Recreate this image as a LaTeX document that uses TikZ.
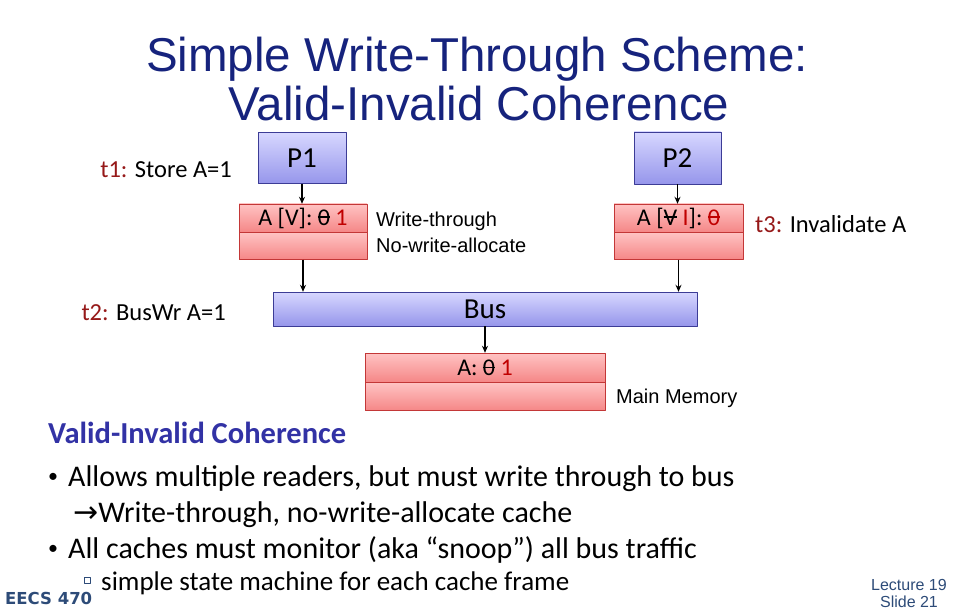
\documentclass[tikz,border=0pt]{standalone}
\usepackage{fontspec}
\setmainfont{Carlito}
\newfontfamily\arialfont{Liberation Sans}
\newfontfamily\titlefont{Liberation Sans}
\newfontfamily\symfont{DejaVu Sans}
\usetikzlibrary{positioning,arrows.meta}
\definecolor{titleblue}{RGB}{22,35,125}
\definecolor{procline}{RGB}{60,60,150}
\definecolor{proctop}{RGB}{215,215,255}
\definecolor{procbot}{RGB}{150,150,235}
\definecolor{rowline}{RGB}{195,55,55}
\definecolor{rowtop}{RGB}{255,195,195}
\definecolor{rowbot}{RGB}{245,135,135}
\definecolor{tred}{RGB}{150,25,25}
\definecolor{valred}{RGB}{192,0,0}
\definecolor{headblue}{RGB}{50,50,165}
\definecolor{footblue}{RGB}{45,75,120}
\newsavebox\strkbox
\newcommand\strk[1]{\sbox\strkbox{#1}\rlap{\rule[0.3em]{\wd\strkbox}{0.06em}}\usebox\strkbox}
\newcommand\bulletmark{\makebox[20pt][l]{\raisebox{0.12em}{\fontsize{20}{24}\selectfont\textbullet}}}
\begin{document}
\begin{tikzpicture}[x=1pt,y=-1pt,>={Stealth[length=7pt,width=6pt]},line join=round,
	proc/.style={draw=procline,top color=proctop,bottom color=procbot,inner sep=0pt,font=\fontsize{29}{33}\selectfont},
	row/.style={draw=rowline,top color=rowtop,bottom color=rowbot,inner sep=0pt,font=\fontsize{24}{28}\selectfont},
	note/.style={font=\arialfont\fontsize{20}{23}\selectfont,inner sep=0pt,anchor=west},
	tlabel/.style={font=\fontsize{24.5}{28}\selectfont,inner sep=0pt},
	body/.style={font=\fontsize{30}{34}\selectfont,inner sep=0pt,anchor=base west}]
				\useasboundingbox (0,0) rectangle (958,612);
				% title
				\node[font=\titlefont\fontsize{47.5}{52}\selectfont,text=titleblue,anchor=base] (title1) at (477,72) {Simple Write-Through Scheme:};
				\node[font=\titlefont\fontsize{47.5}{52}\selectfont,text=titleblue,anchor=base] (title2) at (479,121) {Valid-Invalid Coherence};
				% processors and caches
				\node[proc,minimum width=88pt,minimum height=51pt] (p1) at (302,158) {P1};
				\node[proc,minimum width=87pt,minimum height=52pt] (p2) at (677.5,158) {P2};
				\node[row,minimum width=128pt,minimum height=28pt] (c1a) at (303,218) {A [V]: \strk{0} \textcolor{valred}{1}};
				\node[row,minimum width=128pt,minimum height=27pt,below=0pt of c1a] (c1b) {};
				\node[row,minimum width=129pt,minimum height=28pt] (c2a) at (678.5,218) {A [\strk{V} \textcolor{valred}{I}]: \textcolor{valred}{\strk{0}}};
				\node[row,minimum width=129pt,minimum height=27pt,below=0pt of c2a] (c2b) {};
				% bus and memory
				\node[proc,minimum width=424pt,minimum height=34pt] (bus) at (485,309) {Bus};
				\node[row,minimum width=240pt,minimum height=29pt] (m1) at (485,367.5) {A: \strk{0} \textcolor{valred}{1}};
				\node[row,minimum width=240pt,minimum height=28pt,below=0pt of m1] (m2) {};
				\draw[->,line width=1.5pt] (p1.south) -- (p1.south |- c1a.north);
				\draw[->,line width=1.5pt] (c1b.south) -- (c1b.south |- bus.north);
				\draw[->,line width=1.5pt] (p2.south) -- (p2.south |- c2a.north);
				\draw[->,line width=1.5pt] (c2b.south) -- (c2b.south |- bus.north);
				\draw[->,line width=1.5pt] (bus.south) -- (m1.north);
				% labels
				\node[tlabel,anchor=east] (t1) at (232,170) {\textcolor{tred}{t1:} Store A=1};
				\node[tlabel,anchor=east] (t2) at (226,313) {\textcolor{tred}{t2:} BusWr A=1};
				\node[tlabel,anchor=west] (t3) at (755,224) {\textcolor{tred}{t3:} Invalidate A};
				\node[note] (wt) at (376,221) {Write-through};
				\node[note] (nwa) at (376,245) {No-write-allocate};
				\node[note] (mm) at (616,398) {Main Memory};
				% text below
				\node[body,font=\bfseries\fontsize{30.5}{34}\selectfont,text=headblue] (head) at (48,443) {Valid-Invalid Coherence};
				\node[body] (line1) at (48,486) {\bulletmark Allows multiple readers, but must write through to bus};
				\node[body] (line2) at (73,522) {{\symfont\fontsize{30}{34}\selectfont→}Write-through, no-write-allocate cache};
				\node[body] (line3) at (48,558) {\bulletmark All caches must monitor (aka “snoop”) all bus traffic};
				\node[draw=footblue,line width=0.8pt,inner sep=0pt,minimum size=6pt] (sq) at (87,580) {};
				\node[body,font=\fontsize{27}{31}\selectfont] (line4) at (101,590) {simple state machine for each cache frame};
				% footer
				\node[body,font=\symfont\bfseries\fontsize{16.5}{19}\selectfont,text=footblue] (eecs) at (5,604) {EECS 470};
				\node[font=\titlefont\fontsize{16}{18}\selectfont,text=footblue,inner sep=0pt,anchor=base] (lect) at (909,590) {Lecture 19};
				\node[font=\titlefont\fontsize{16}{18}\selectfont,text=footblue,inner sep=0pt,anchor=base] (slide) at (909,607) {Slide 21};
\end{tikzpicture}
\end{document}
